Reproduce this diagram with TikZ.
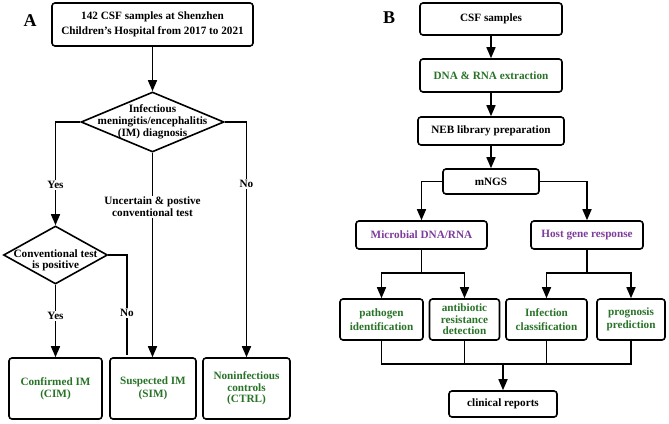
\documentclass[tikz,border=0pt]{standalone}
\usepackage{fontspec}
\setmainfont{Liberation Serif}
\usetikzlibrary{shapes.geometric,arrows.meta}
\definecolor{tgreen}{RGB}{40,115,40}
\definecolor{tpurple}{RGB}{125,60,155}
\tikzset{
  box/.style={draw, line width=1.6pt, rounded corners=3pt, align=center, inner sep=1pt,
    font=\bfseries\fontsize{11.2}{12.5}\selectfont},
  dia/.style={draw, diamond, line width=1.6pt, inner sep=0pt},
  txt/.style={align=center, font=\bfseries\fontsize{11.2}{12}\selectfont},
  lbl/.style={txt, fill=white, inner sep=1.5pt},
  conn/.style={line width=1.6pt},
  arr/.style={line width=1.6pt, -{Triangle[length=11pt,width=9pt]}},
  panel/.style={font=\bfseries\fontsize{18}{18}\selectfont},
}
\begin{document}
\begin{tikzpicture}[x=1pt,y=-1pt]
\useasboundingbox (0,0) rectangle (669,423);
% ---------- Panel A ----------
\node[panel] (pa) at (30,21) {A};
\node[box, minimum width=201pt, minimum height=43pt, font=\bfseries\fontsize{11.2}{15}\selectfont] (top) at (152.5,24.5) {142 CSF samples at Shenzhen\\Children’s Hospital from 2017 to 2021};
\node[dia, minimum width=143pt, minimum height=60pt] (d1) at (152.5,122) {};
\node[txt] (d1t) at (152.5,122) {Infectious\\meningitis/encephalitis\\(IM) diagnosis};
\node[dia, minimum width=104pt, minimum height=58pt] (d2) at (55.5,255) {};
\node[txt, font=\bfseries\fontsize{11.2}{11}\selectfont] (d2t) at (55.5,260) {Conventional test\\is positive};
\node[box, minimum width=93pt, minimum height=61pt, text=tgreen] (cim) at (55.5,388.5) {Confirmed IM\\(CIM)};
\node[box, minimum width=86pt, minimum height=61pt, text=tgreen] (sim) at (153,388.5) {Suspected IM\\(SIM)};
\node[box, minimum width=87pt, minimum height=61pt, text=tgreen, font=\bfseries\fontsize{11.2}{11.5}\selectfont] (ctrl) at (246.5,388.5) {Noninfectious\\controls\\(CTRL)};
\coordinate (noend) at (127,355);

\draw[arr] (top) -- (d1);
\draw[arr] (d1.west) -| (d2.north);
\draw[arr] (d1.south) -- (sim.north -| d1.south);
\draw[arr] (d1.east) -| (ctrl.north);
\draw[conn] (d2.east) -| (noend);
\draw[arr] (d2.south) -- (cim.north);

\node[lbl] (yes1) at (55.5,185) {Yes};
\node[lbl] (unc) at (152.5,207) {Uncertain \& postive\\conventional test};
\node[lbl] (no1) at (246.5,184) {No};
\node[lbl] (no2) at (127,313) {No};
\node[lbl] (yes2) at (55.5,316) {Yes};

% ---------- Panel B ----------
\node[panel] (pb) at (389,18) {B};
\node[box, minimum width=142pt, minimum height=32pt] (csf) at (491,19) {CSF samples};
\node[box, minimum width=142pt, minimum height=33pt, text=tgreen] (dna) at (491,75.5) {DNA \& RNA extraction};
\node[box, minimum width=146pt, minimum height=28pt] (neb) at (491,131) {NEB library preparation};
\node[box, minimum width=96pt, minimum height=25pt] (mngs) at (491,181.5) {mNGS};
\node[box, minimum width=131pt, minimum height=28pt, text=tpurple] (mic) at (421.5,235) {Microbial DNA/RNA};
\node[box, minimum width=112pt, minimum height=28pt, text=tpurple] (host) at (587,235) {Host gene response};
\node[box, minimum width=83pt, minimum height=41pt, text=tgreen, font=\bfseries\fontsize{11.2}{13.5}\selectfont] (path) at (381.5,319.5) {pathogen\\identification};
\node[box, minimum width=70pt, minimum height=41pt, text=tgreen, font=\bfseries\fontsize{11.2}{11.5}\selectfont] (ant) at (464.5,319.5) {antibiotic\\resistance\\detection};
\node[box, minimum width=81pt, minimum height=41pt, text=tgreen, font=\bfseries\fontsize{11.2}{13.5}\selectfont] (inf) at (546.5,319.5) {Infection\\classification};
\node[box, minimum width=68pt, minimum height=41pt, text=tgreen, font=\bfseries\fontsize{11.2}{13.5}\selectfont] (prog) at (631,319.5) {prognosis\\prediction};
\node[box, minimum width=108pt, minimum height=26pt] (clin) at (503,404) {clinical reports};
\coordinate (jm) at (421.5,273);
\coordinate (jh) at (587,273);
\coordinate (jb) at (503,364);

\draw[arr] (csf) -- (dna);
\draw[arr] (dna) -- (neb);
\draw[arr] (neb) -- (mngs);
\draw[arr] (mngs.west) -| (mic.north);
\draw[arr] (mngs.east) -| (host.north);
\draw[conn] (mic.south) -- (jm);
\draw[arr] (jm) -| (path.north);
\draw[arr] (jm) -| (ant.north);
\draw[conn] (host.south) -- (jh);
\draw[arr] (jh) -| (inf.north);
\draw[arr] (jh) -| (prog.north);
\draw[conn] (path.south) |- (jb);
\draw[conn] (ant.south) |- (jb);
\draw[conn] (inf.south) |- (jb);
\draw[conn] (prog.south) |- (jb);
\draw[arr] (jb) -- (clin.north);
\end{tikzpicture}
\end{document}
